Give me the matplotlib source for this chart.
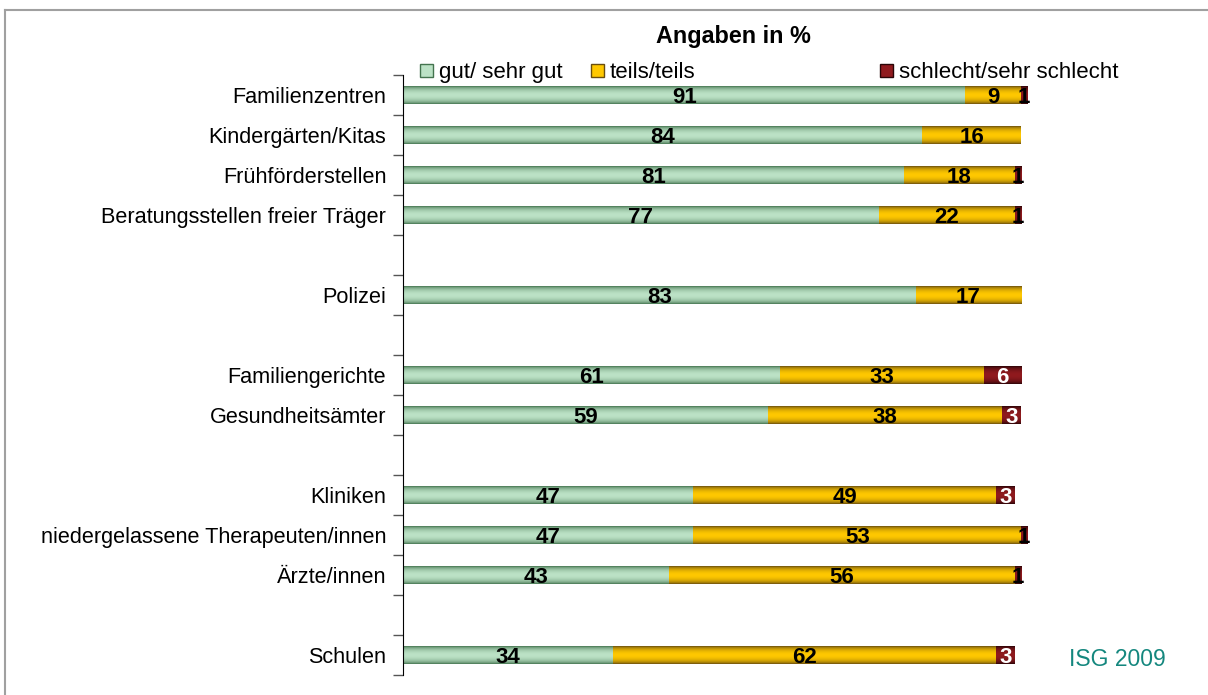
import numpy as np
import matplotlib.pyplot as plt
from matplotlib.patches import Rectangle
from matplotlib.lines import Line2D

plt.rcParams['font.family'] = ['Liberation Sans', 'DejaVu Sans']

# Bewertung der Zusammenarbeit, Angaben in %
kategorien = ["Familienzentren", "Kindergärten/Kitas", "Frühförderstellen",
              "Beratungsstellen freier Träger", "Polizei", "Familiengerichte",
              "Gesundheitsämter", "Kliniken", "niedergelassene Therapeuten/innen",
              "Ärzte/innen", "Schulen"]
gut = [91, 84, 81, 77, 83, 61, 59, 47, 47, 43, 34]
teils = [9, 16, 18, 22, 17, 33, 38, 49, 53, 56, 62]
schlecht = [1, 0, 1, 1, 0, 6, 3, 3, 1, 1, 3]
serien = ["gut/ sehr gut", "teils/teils", "schlecht/sehr schlecht"]
quelle = "ISG 2009"

# Leerzeilen nach diesen Kategorien (Gruppen)
luecke_nach = [3, 4, 6, 9]

# Farben: (Mitte hell, Rand dunkel)
farben = [("#bce2c6", "#44744f"), ("#ffc800", "#6a4e0e"), ("#901a1e", "#2a0507")]

# Zeilenpositionen mit Leerzeilen
pos = []
p = 0
for i in range(len(kategorien)):
    pos.append(p)
    p += 2 if i in luecke_nach else 1
n_zeilen = p

fig = plt.figure(figsize=(12.08, 6.95), dpi=100)
ax = fig.add_axes([403 / 1208, 1 - 675 / 695, (1021 - 403) / 1208, 600 / 695])


def verlauf(hell, dunkel, n=40):
    h = np.array(plt.matplotlib.colors.to_rgb(hell))
    d = np.array(plt.matplotlib.colors.to_rgb(dunkel))
    t = np.linspace(0, 1, n)
    w = np.sin(np.pi * t) ** 0.6
    return (d[None, :] + (h - d)[None, :] * w[:, None])[:, None, :]


hoehe = 0.44
links = np.zeros(len(kategorien))
for werte, (hell, dunkel), name in zip([gut, teils, schlecht], farben, serien):
    werte = np.array(werte, dtype=float)
    bars = ax.barh(pos, werte, left=links, height=hoehe, color=hell, label=name,
                   zorder=1, clip_on=False)
    bild = verlauf(hell, dunkel)
    for b, v, l, y in zip(bars, werte, links, pos):
        if v <= 0:
            continue
        im = ax.imshow(bild, extent=(l, l + v, y + hoehe / 2, y - hoehe / 2),
                       aspect='auto', interpolation='bilinear', zorder=2)
        im.set_clip_on(False)
        farbe = 'white' if (name == serien[2] and v >= 3) else 'black'
        ax.text(l + v / 2, y, f"{v:.0f}", ha='center', va='center_baseline',
                fontsize=16, fontweight='bold', color=farbe, zorder=3)
    links = links + werte

ax.set_xlim(0, 100)
ax.set_ylim(n_zeilen - 0.5, -0.5)

# Striche an den Zeilengrenzen, Beschriftung in der Zeilenmitte
ax.set_yticks(np.arange(n_zeilen + 1) - 0.5)
ax.set_yticklabels([])
ax.set_yticks(pos, minor=True)
ax.set_yticklabels(kategorien, minor=True, fontsize=15.6)
ax.tick_params(axis='y', which='major', length=7, width=1, color='#555555')
ax.tick_params(axis='y', which='minor', length=0, pad=12)
ax.set_xticks([])
for s in ['top', 'right', 'bottom']:
    ax.spines[s].set_visible(False)
ax.spines['left'].set_color('black')

fig.text(733 / 1208, 1 - 37 / 695, "Angaben in %", ha='center', va='center',
         fontsize=16.8, fontweight='bold')

# Legende
leg_x = [420, 591, 880]
for x, (hell, dunkel), name in zip(leg_x, farben, serien):
    fig.patches.append(Rectangle((x / 1208, 1 - 77 / 695), 13 / 1208, 13 / 695,
                                 transform=fig.transFigure, facecolor=hell,
                                 edgecolor=dunkel, lw=1))
    fig.text((x + 19) / 1208, 1 - 70 / 695, name, ha='left', va='center_baseline',
             fontsize=16)

fig.text(1117 / 1208, 1 - 660 / 695, quelle, ha='center', va='center',
         fontsize=16.5, color='#14877e')

# Rahmen
fig.lines.append(Line2D([4.5 / 1208, 4.5 / 1208], [0, 1 - 9.5 / 695],
                        transform=fig.transFigure, color='#a0a0a0', lw=1.5))
fig.lines.append(Line2D([4.5 / 1208, 1], [1 - 9.5 / 695, 1 - 9.5 / 695],
                        transform=fig.transFigure, color='#a0a0a0', lw=1.5))

fig.savefig("out.png", dpi=100)
